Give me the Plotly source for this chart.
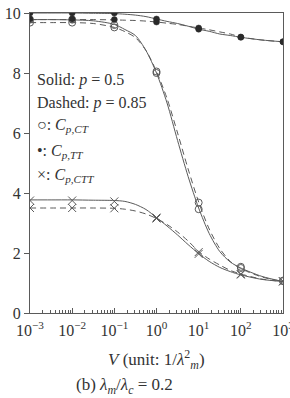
import plotly.graph_objects as go

# marker positions (decades)
V_pts = [1e-3, 1e-2, 1e-1, 1e0, 1e1, 1e2, 1e3]
# curve positions
V_curve = [10**-3, 10**-2.5, 10**-2, 10**-1.5, 10**-1, 10**-0.75, 10**-0.5, 10**-0.25, 1,
           10**0.25, 10**0.5, 10**0.75, 10**1, 10**1.25, 10**1.5, 10**1.75, 10**2, 10**2.5, 10**3]

ct_solid_curve  = [9.78, 9.78, 9.77, 9.74, 9.62, 9.45, 9.25, 8.75, 8.0, 7.0, 5.75, 4.55, 3.5, 2.65, 2.05, 1.7, 1.5, 1.22, 1.05]
ct_dashed_curve = [9.68, 9.68, 9.68, 9.65, 9.52, 9.38, 9.18, 8.75, 8.05, 7.15, 6.0, 4.8, 3.7, 2.8, 2.15, 1.72, 1.48, 1.2, 1.05]
tt_solid_curve  = [10.0, 10.0, 10.0, 9.99, 9.98, 9.96, 9.93, 9.88, 9.8, 9.72, 9.65, 9.56, 9.46, 9.39, 9.3, 9.25, 9.19, 9.1, 9.04]
tt_dashed_curve = [9.78, 9.78, 9.78, 9.78, 9.77, 9.76, 9.75, 9.73, 9.7, 9.66, 9.62, 9.56, 9.5, 9.44, 9.37, 9.3, 9.2, 9.1, 9.04]
ctt_solid_curve = [3.77, 3.77, 3.77, 3.76, 3.75, 3.72, 3.62, 3.45, 3.18, 2.9, 2.6, 2.28, 1.98, 1.72, 1.52, 1.38, 1.27, 1.12, 1.05]
ctt_dashed_curve= [3.5, 3.5, 3.5, 3.5, 3.49, 3.46, 3.4, 3.3, 3.15, 2.95, 2.7, 2.4, 2.05, 1.8, 1.6, 1.42, 1.3, 1.13, 1.05]

ct_solid_pts   = [9.78, 9.78, 9.6, 8.0, 3.46, 1.5, 1.08]
ct_dashed_pts  = [9.68, 9.68, 9.52, 8.05, 3.68, 1.54, 1.06]
tt_solid_pts   = [10.0, 10.0, 10.0, 9.8, 9.46, 9.19, 9.04]
tt_dashed_pts  = [9.8, 9.8, 9.78, 9.7, 9.5, 9.2, 9.04]
ctt_solid_pts  = [3.75, 3.75, 3.72, 3.18, 1.97, 1.28, 1.06]
ctt_dashed_pts = [3.5, 3.5, 3.49, 3.15, 2.03, 1.3, 1.05]

xtick_vals = [1e-3, 1e-2, 1e-1, 1e0, 1e1, 1e2, 1e3]
xtick_text = ["10<sup>−3</sup>", "10<sup>−2</sup>", "10<sup>−1</sup>", "10<sup>0</sup>",
              "10<sup>1</sup>", "10<sup>2</sup>", "10<sup>3</sup>"]
minor_vals = [m * 10**e for e in range(-3, 3) for m in range(2, 10)]
ytick_vals = [0, 2, 4, 6, 8, 10]

LINE = "#5a5a5a"
TXT = "#333"
FONT = "Liberation Serif"

fig = go.Figure()

def curve(y, dash):
    fig.add_trace(go.Scatter(x=V_curve, y=y, mode="lines",
                             line=dict(color=LINE, width=1, dash=dash, shape="spline", smoothing=0.8),
                             showlegend=False, hoverinfo="skip"))

def marks(y, symbol, size, color, lw):
    fig.add_trace(go.Scatter(x=V_pts, y=y, mode="markers",
                             marker=dict(symbol=symbol, size=size, color=color,
                                         line=dict(color=color if "open" not in symbol else LINE, width=lw)),
                             showlegend=False, hoverinfo="skip"))

for y, d in [(ct_solid_curve, "solid"), (ct_dashed_curve, "6px,4px"),
             (tt_solid_curve, "solid"), (tt_dashed_curve, "6px,4px"),
             (ctt_solid_curve, "solid"), (ctt_dashed_curve, "6px,4px")]:
    curve(y, d)

marks(ct_solid_pts, "circle-open", 7, LINE, 1)
marks(ct_dashed_pts, "circle-open", 7, LINE, 1)
marks(ctt_solid_pts, "x-thin-open", 8, LINE, 1)
marks(ctt_dashed_pts, "x-thin-open", 8, LINE, 1)
marks(tt_solid_pts, "circle", 6, "#2a2a2a", 0.5)
marks(tt_dashed_pts, "circle", 6, "#2a2a2a", 0.5)

legend_lines = [
    (7.77, "Solid: <i>p</i> = 0.5"),
    (7.0, "Dashed: <i>p</i> = 0.85"),
    (6.25, "○: <i>C</i><sub><i>p,CT</i></sub>"),
    (5.37, "•: <i>C</i><sub><i>p,TT</i></sub>"),
    (4.6, "×: <i>C</i><sub><i>p,CTT</i></sub>"),
]
for yv, txt in legend_lines:
    fig.add_annotation(x=0.018, xref="paper", y=yv, yref="y", text=txt, showarrow=False,
                       xanchor="left", yanchor="middle", font=dict(family=FONT, size=16, color=TXT))

fig.update_layout(
    width=290, height=398,
    margin=dict(l=30, r=7, t=13, b=85, autoexpand=False),
    paper_bgcolor="white", plot_bgcolor="white",
    font=dict(family=FONT, size=16, color=TXT),
    xaxis=dict(type="log", range=[-3, 3.0001], tickvals=xtick_vals, ticktext=xtick_text,
               ticks="inside", ticklen=5, tickcolor=LINE, showgrid=False, zeroline=False,
               showline=True, linecolor=LINE, linewidth=1, mirror=True, ticklabeloverflow="allow",
               automargin=False, ticklabelstandoff=3,
               minor=dict(tickvals=minor_vals, ticks="inside", ticklen=3, tickcolor=LINE, showgrid=False),
               tickfont=dict(family=FONT, size=16, color=TXT)),
    yaxis=dict(range=[0, 10], tickvals=ytick_vals, ticks="outside", ticklen=5, tickcolor=LINE,
               showgrid=False, zeroline=False, showline=True, linecolor=LINE, linewidth=1, mirror=True,
               automargin=False, tickfont=dict(family=FONT, size=16, color=TXT)),
)

# axis title and caption (pixel positions converted to paper coords)
fig.add_annotation(x=(156 - 30) / 253, xref="paper", y=-(359 - 313) / 300, yref="paper",
                   text="<i>V</i> (unit: 1/<i>λ</i><sup>2</sup><sub><i>m</i></sub>)",
                   showarrow=False, xanchor="center", yanchor="middle",
                   font=dict(family=FONT, size=17, color=TXT))
fig.add_annotation(x=(124 - 30) / 253, xref="paper", y=-(386 - 313) / 300, yref="paper",
                   text="(b) <i>λ</i><sub><i>m</i></sub>/<i>λ</i><sub><i>c</i></sub> = 0.2",
                   showarrow=False, xanchor="center", yanchor="middle",
                   font=dict(family=FONT, size=17, color=TXT))

fig.write_html("out.html")
